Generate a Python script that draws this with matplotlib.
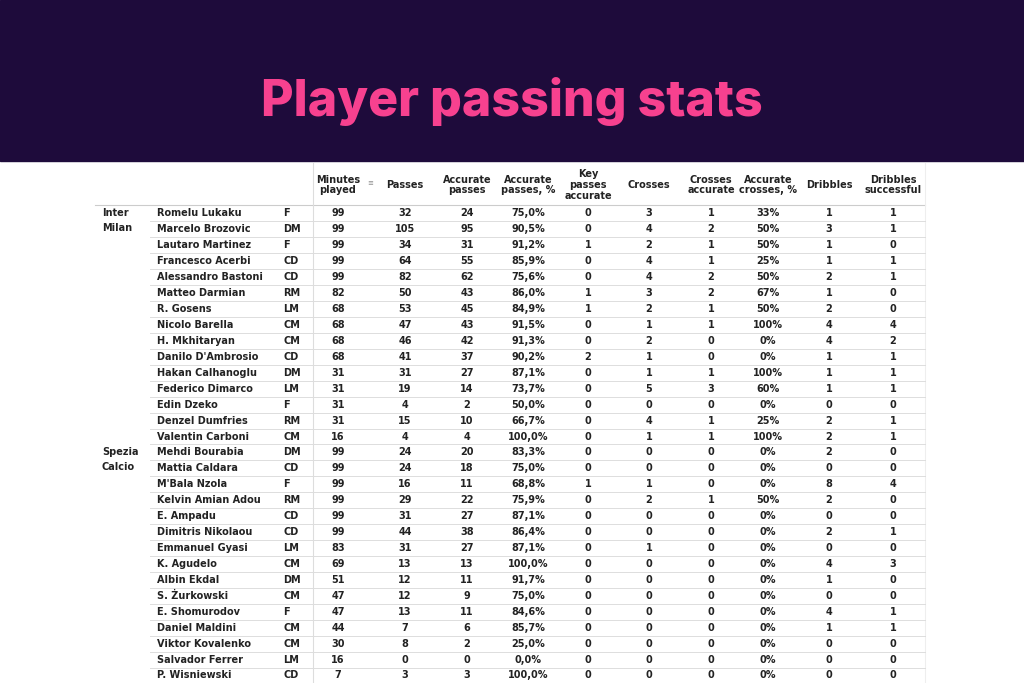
import matplotlib
matplotlib.use('Agg')
import matplotlib.pyplot as plt
from matplotlib.patches import Rectangle

# Table data
teams = ['Inter\nMilan'] + [''] * 14 + ['Spezia\nCalcio'] + [''] * 14
players = ['Romelu Lukaku', 'Marcelo Brozovic', 'Lautaro Martinez', 'Francesco Acerbi',
           'Alessandro Bastoni', 'Matteo Darmian', 'R. Gosens', 'Nicolo Barella',
           'H. Mkhitaryan', "Danilo D'Ambrosio", 'Hakan Calhanoglu', 'Federico Dimarco',
           'Edin Dzeko', 'Denzel Dumfries', 'Valentin Carboni',
           'Mehdi Bourabia', 'Mattia Caldara', "M'Bala Nzola", 'Kelvin Amian Adou',
           'E. Ampadu', 'Dimitris Nikolaou', 'Emmanuel Gyasi', 'K. Agudelo',
           'Albin Ekdal', 'S. Żurkowski', 'E. Shomurodov', 'Daniel Maldini',
           'Viktor Kovalenko', 'Salvador Ferrer', 'P. Wisniewski']
positions = ['F', 'DM', 'F', 'CD', 'CD', 'RM', 'LM', 'CM', 'CM', 'CD', 'DM', 'LM', 'F', 'RM', 'CM',
             'DM', 'CD', 'F', 'RM', 'CD', 'CD', 'LM', 'CM', 'DM', 'CM', 'F', 'CM', 'CM', 'LM', 'CD']
minutes = [99, 99, 99, 99, 99, 82, 68, 68, 68, 68, 31, 31, 31, 31, 16,
           99, 99, 99, 99, 99, 99, 83, 69, 51, 47, 47, 44, 30, 16, 7]
passes = [32, 105, 34, 64, 82, 50, 53, 47, 46, 41, 31, 19, 4, 15, 4,
          24, 24, 16, 29, 31, 44, 31, 13, 12, 12, 13, 7, 8, 0, 3]
acc_passes = [24, 95, 31, 55, 62, 43, 45, 43, 42, 37, 27, 14, 2, 10, 4,
              20, 18, 11, 22, 27, 38, 27, 13, 11, 9, 11, 6, 2, 0, 3]
acc_pct = ['75,0%', '90,5%', '91,2%', '85,9%', '75,6%', '86,0%', '84,9%', '91,5%', '91,3%',
           '90,2%', '87,1%', '73,7%', '50,0%', '66,7%', '100,0%',
           '83,3%', '75,0%', '68,8%', '75,9%', '87,1%', '86,4%', '87,1%', '100,0%', '91,7%',
           '75,0%', '84,6%', '85,7%', '25,0%', '0,0%', '100,0%']
key_passes = [0, 0, 1, 0, 0, 1, 1, 0, 0, 2, 0, 0, 0, 0, 0,
              0, 0, 1, 0, 0, 0, 0, 0, 0, 0, 0, 0, 0, 0, 0]
crosses = [3, 4, 2, 4, 4, 3, 2, 1, 2, 1, 1, 5, 0, 4, 1,
           0, 0, 1, 2, 0, 0, 1, 0, 0, 0, 0, 0, 0, 0, 0]
crosses_acc = [1, 2, 1, 1, 2, 2, 1, 1, 0, 0, 1, 3, 0, 1, 1,
               0, 0, 0, 1, 0, 0, 0, 0, 0, 0, 0, 0, 0, 0, 0]
cross_pct = ['33%', '50%', '50%', '25%', '50%', '67%', '50%', '100%', '0%', '0%', '100%', '60%',
             '0%', '25%', '100%',
             '0%', '0%', '0%', '50%', '0%', '0%', '0%', '0%', '0%', '0%', '0%', '0%', '0%', '0%', '0%']
dribbles = [1, 3, 1, 1, 2, 1, 2, 4, 4, 1, 1, 1, 0, 2, 2,
            2, 0, 8, 2, 0, 2, 0, 4, 1, 0, 4, 1, 0, 0, 0]
dribbles_ok = [1, 1, 0, 1, 1, 0, 0, 4, 2, 1, 1, 1, 0, 1, 1,
               0, 0, 4, 0, 0, 1, 0, 3, 0, 0, 1, 1, 0, 0, 0]
headers = ['Minutes\nplayed', 'Passes', 'Accurate\npasses', 'Accurate\npasses, %',
           'Key\npasses\naccurate', 'Crosses', 'Crosses\naccurate', 'Accurate\ncrosses, %',
           'Dribbles', 'Dribbles\nsuccessful']

fig = plt.figure(figsize=(10.24, 6.83), dpi=100)
ax = fig.add_axes([0, 0, 1, 1])
ax.set_xlim(0, 1024)
ax.set_ylim(683, 0)
ax.axis('off')

# banner
ax.add_patch(Rectangle((0, 0), 1024, 161, color='#1e0b3b'))
ax.text(512, 102, 'Player passing stats', color='#f7418f', fontsize=36,
        fontweight='heavy', family=['Inter', 'DejaVu Sans'], ha='center', va='center')

font = ['Liberation Sans Narrow', 'DejaVu Sans']
fs = 7
col_x = [338, 405, 467, 528, 588, 649, 711, 768, 829, 893]
row0, pitch = 213.5, 15.93

# header
for x, h in zip(col_x, headers):
    ax.text(x, 185, h, ha='center', va='center', fontsize=fs, fontweight='bold',
            family=font, linespacing=1.1, color='#222222')
ax.text(370, 183, '≡', fontsize=5, color='#888888', ha='center', va='center')
ax.plot([95, 925], [205, 205], color='#cccccc', lw=0.8)
ax.plot([313, 313], [163, 683], color='#dddddd', lw=0.8)
ax.plot([925, 925], [163, 683], color='#eeeeee', lw=0.8)

for i in range(len(players)):
    y = row0 + i * pitch
    if teams[i]:
        ax.text(102, y - 5, teams[i], ha='left', va='top', fontsize=fs, fontweight='bold',
                family=font, linespacing=1.6, color='#222222')
    ax.text(157, y, players[i], ha='left', va='center', fontsize=fs, fontweight='bold',
            family=font, color='#222222')
    ax.text(283, y, positions[i], ha='left', va='center', fontsize=fs, fontweight='bold',
            family=font, color='#222222')
    vals = [minutes[i], passes[i], acc_passes[i], acc_pct[i], key_passes[i], crosses[i],
            crosses_acc[i], cross_pct[i], dribbles[i], dribbles_ok[i]]
    for x, v in zip(col_x, vals):
        ax.text(x, y, str(v), ha='center', va='center', fontsize=fs, fontweight='bold',
                family=font, color='#222222')
    ax.plot([150, 925], [y + pitch / 2, y + pitch / 2], color='#dddddd', lw=0.7)

fig.savefig('out.png', dpi=100, facecolor='white')
